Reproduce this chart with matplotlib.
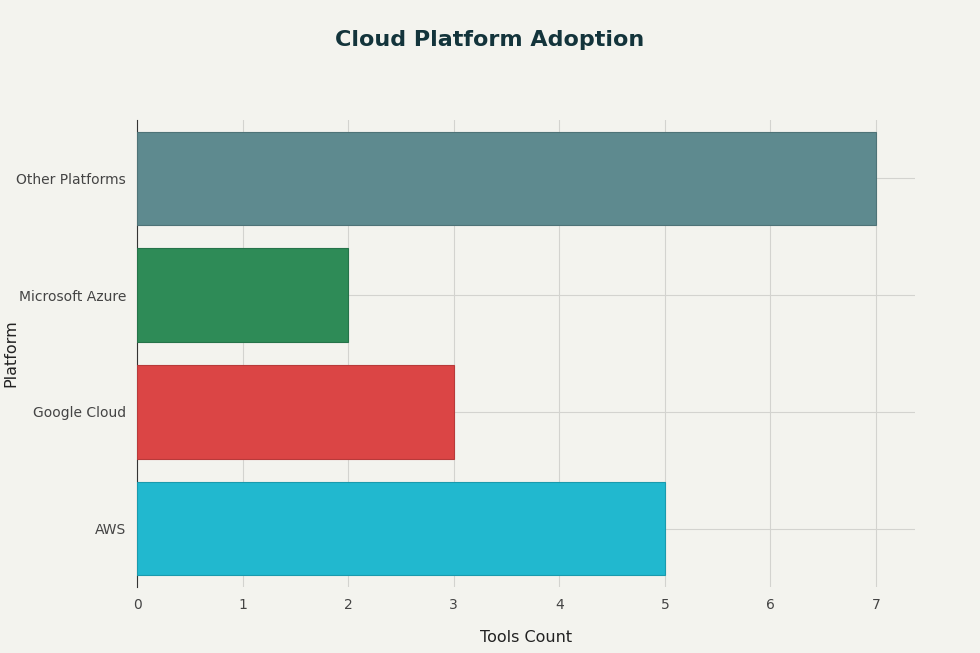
import matplotlib.pyplot as plt

platforms = ["AWS", "Google Cloud", "Microsoft Azure", "Other Platforms"]
tools_count = [5, 3, 2, 7]
colors = ["#21b8cf", "#db4545", "#2e8b57", "#5e8a8f"]
edges = ["#1a9aad", "#b83a3a", "#257349", "#4e7377"]

BG = "#f3f3ee"

fig = plt.figure(figsize=(9.8, 6.53), dpi=100, facecolor=BG)
ax = fig.add_axes([137 / 980, 1 - 587 / 653, (915 - 137) / 980, (587 - 120) / 653])
ax.set_facecolor(BG)

ax.barh(range(len(platforms)), tools_count, height=0.8, color=colors,
        edgecolor=edges, linewidth=0.8, zorder=3)

ax.set_xlim(0, 7.37)
ax.set_ylim(-0.5, 3.5)
ax.set_xticks(range(8))
ax.set_yticks(range(len(platforms)))
ax.set_yticklabels(platforms)
ax.grid(True, color="#d3d3cf", linewidth=0.8, zorder=0)
for side in ["top", "right", "bottom"]:
    ax.spines[side].set_visible(False)
ax.spines["left"].set_color("#333333")
ax.tick_params(length=0, labelsize=10, colors="#444444", pad=8)

fig.text(526 / 980, 1 - 637 / 653, "Tools Count", ha="center", va="center",
         fontsize=11.5, color="#222222")
fig.text(11 / 980, 1 - 353 / 653, "Platform", ha="center", va="center",
         rotation=90, fontsize=11.5, color="#222222")
fig.text(0.5, 1 - 40 / 653, "Cloud Platform Adoption", ha="center", va="center",
         fontsize=16, fontweight="bold", color="#13343b")

fig.savefig("out.png", dpi=100, facecolor=BG)
